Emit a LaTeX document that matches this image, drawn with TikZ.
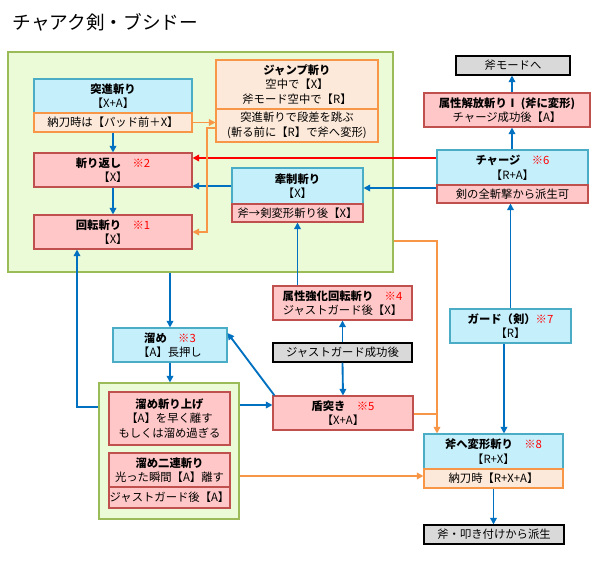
\documentclass[tikz,border=0pt]{standalone}
\usepackage{fontspec}
\setmainfont{Noto Sans CJK JP}
\usepackage{tikz}
\usetikzlibrary{arrows.meta}

\definecolor{bluefill}{RGB}{198,239,252}
\definecolor{blueline}{RGB}{75,172,198}
\definecolor{redfill}{RGB}{255,199,199}
\definecolor{redline}{RGB}{192,80,77}
\definecolor{orgfill}{RGB}{253,233,217}
\definecolor{orgline}{RGB}{247,150,70}
\definecolor{grayfill}{RGB}{217,217,217}
\definecolor{greenfill}{RGB}{235,250,215}
\definecolor{greenline}{RGB}{155,187,89}
\definecolor{arrblue}{RGB}{0,112,192}
\newcommand{\mk}[1]{\textcolor{red}{※#1}}

\tikzset{
  box/.style 2 args={draw, minimum width=#1*0.75pt, minimum height=#2*0.75pt, inner sep=0pt, align=center},
  bluebox/.style={fill=bluefill, draw=blueline, line width=0.8pt},
  redbox/.style={fill=redfill, draw=redline, line width=0.8pt},
  orgbox/.style={fill=orgfill, draw=orgline, line width=0.8pt},
  graybox/.style={fill=grayfill, draw=black, line width=0.8pt},
  area/.style={fill=greenfill, draw=greenline, line width=0.8pt},
  barr/.style={-{Triangle[width=5pt,length=5pt]}, arrblue, line width=1.4pt},
  oarr/.style={-{Triangle[width=5pt,length=5pt]}, orgline, line width=1.2pt},
  rarr/.style={-{Triangle[width=5pt,length=5pt]}, red, line width=1.4pt},
}

\begin{document}
\begin{tikzpicture}[x=0.75pt,y=0.75pt,yscale=-1,xscale=1,font=\fontsize{8.5pt}{11pt}\selectfont]
  \useasboundingbox (0,0) rectangle (601,561);

  % title
  \node[anchor=west, font=\fontsize{14pt}{16pt}\selectfont] (title) at (8,22) {チャアク剣・ブシドー};

  % areas
  \node[area, box={385}{220}] (sword) at (200.5,162) {};
  \node[area, box={140}{136}] (tamearea) at (169,451) {};

  % boxes, sword side
  \node[bluebox, box={158}{34}] (totsu) at (113,96) {\textbf{突進斬り}\\【X+A】};
  \node[orgbox, box={158}{19}] (totsuS) at (113,122.5) {納刀時は【パッド前＋X】};
  \node[orgbox, box={162}{49}] (jump) at (297,84.5) {\textbf{ジャンプ斬り}\\空中で【X】\\斧モード空中で【R】};
  \node[orgbox, box={162}{33}] (jumpS) at (297,125.5) {突進斬りで段差を跳ぶ\\(斬る前に【R】で斧へ変形)};
  \node[redbox, box={158}{34}] (kaeshi) at (113,170) {\textbf{斬り返し}\quad\mk{2}\\【X】};
  \node[redbox, box={158}{34}] (kaiten) at (113,232) {\textbf{回転斬り}\quad\mk{1}\\【X】};
  \node[bluebox, box={131}{36}] (kensei) at (297.5,186) {\textbf{牽制斬り}\\【X】};
  \node[redbox, box={131}{18}] (kenseiS) at (297.5,213) {斧→剣変形斬り後【X】};

  % right column
  \node[graybox, box={114}{19}] (ono) at (513,65.5) {斧モードへ};
  \node[redbox, box={166}{34}] (kaiho) at (507,110) {\textbf{属性解放斬りⅠ (斧に変形)}\\チャージ成功後【A】};
  \node[bluebox, box={151}{35}] (charge) at (512.5,167.5) {\textbf{チャージ}\quad\mk{6}\\【R+A】};
  \node[redbox, box={151}{18}] (chargeS) at (512.5,194) {剣の全斬撃から派生可};
  \node[bluebox, box={121}{34}] (guard) at (510.5,326) {\textbf{ガード（剣）}\mk{7}\\【R】};
  \node[bluebox, box={139}{35}] (henkei) at (493.5,451.5) {\textbf{斧へ変形斬り}\quad\mk{8}\\【R+X】};
  \node[orgbox, box={139}{19}] (henkeiS) at (493.5,478.5) {納刀時【R+X+A】};
  \node[graybox, box={140}{19}] (tataki) at (494,534.5) {斧・叩き付けから派生};

  % middle
  \node[redbox, box={139}{34}] (kyoka) at (342.5,303) {\textbf{属性強化回転斬り}\quad\mk{4}\\ジャストガード後【X】};
  \node[graybox, box={139}{19}] (jg) at (342.5,352.5) {ジャストガード成功後};
  \node[redbox, box={140}{34}] (tate) at (343,413) {\textbf{盾突き}\quad\mk{5}\\【X+A】};
  \node[bluebox, box={114}{34}] (tame) at (170,345) {\textbf{溜め}\quad\mk{3}\\【A】長押し};
  \node[redbox, box={121}{53}] (kiriage) at (169.5,418.5) {\textbf{溜め斬り上げ}\\【A】を早く離す\\もしくは溜め過ぎる};
  \node[redbox, box={121}{34}] (niren) at (169.5,470) {\textbf{溜め二連斬り}\\光った瞬間【A】離す};
  \node[redbox, box={121}{21}] (nirenS) at (169.5,497.5) {ジャストガード後【A】};

  % blue connectors
  \draw[barr] (totsuS.south) -- (kaeshi.north);
  \draw[barr] (kaeshi.south) -- (kaiten.north);
  \draw[barr] (kensei.west) -- (kensei.west -| kaeshi.east);
  \draw[barr] (charge.west |- 0,188) -- (kensei.east |- 0,188);
  \draw[barr] (kyoka.north -| kenseiS.south) -- (kenseiS.south);
  \draw[barr] (jg.north) -- (kyoka.south);
  \draw[barr] (jg.south) -- (tate.north);
  \draw[barr] (tate.north west) ++(2,0) coordinate (tnw) (tnw) -- (tame.east |- 0,333);
  \draw[barr] (sword.south -| tame.north) -- (tame.north);
  \draw[barr] (tame.south) -- (tamearea.north -| tame.south);
  \draw[barr] (tamearea.east |- 0,405) -- (tate.west |- 0,405);
  \draw[barr] (tamearea.west |- 0,407) -| (kaiten.south -| 77,0);
  \draw[barr] (guard.north) -- (chargeS.south -| guard.north);
  \draw[barr] (guard.south -| 504,0) -- (henkei.north -| 504,0);
  \draw[barr] (henkeiS.south) -- (tataki.north -| henkeiS.south);
  \draw[barr] (charge.north -| 512,0) -- (kaiho.south -| 512,0);
  \draw[barr] (kaiho.north -| 512,0) -- (ono.south -| 512,0);

  % red connector
  \draw[rarr] (charge.west |- 0,158) -- (kaeshi.east |- 0,158);

  % orange connectors
  \draw[oarr] (totsuS.east) -- (jumpS.west |- totsuS.east);
  \draw[oarr] (jumpS.west |- 0,128) -| (207,232) -- (kaiten.east |- 0,232);
  \draw[orgline, line width=1.2pt] (sword.east |- 0,241) -| (437,414);
  \draw[oarr] (tate.east |- 0,414) -| (henkei.north -| 437,0);
  \draw[oarr] (tamearea.east |- 0,476) -- (henkeiS.west |- 0,476);
\end{tikzpicture}
\end{document}
